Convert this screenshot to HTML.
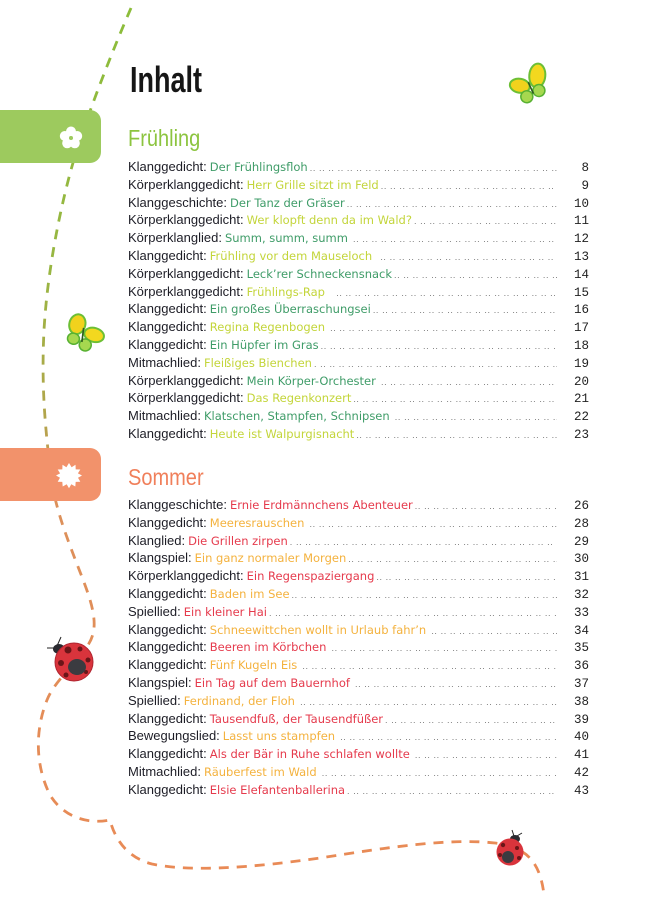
<!DOCTYPE html>
<html><head><meta charset="utf-8">
<style>
*{margin:0;padding:0;box-sizing:border-box}
html,body{width:657px;height:900px;background:#fff;overflow:hidden}
#pg{position:relative;width:657px;height:900px;background:#fff;font-family:"Liberation Sans",sans-serif}
svg.bg{position:absolute;left:0;top:0}
.h1{position:absolute;left:130px;top:62px;font-size:36px;line-height:36px;color:#161616;font-weight:bold;transform:scaleX(0.75);transform-origin:0 0;white-space:nowrap}
.h2{position:absolute;left:128px;font-size:23px;line-height:23px;transform:scaleX(0.87);transform-origin:0 0;white-space:nowrap}
.list{position:absolute;left:128px;width:461px}
.r{display:flex;align-items:baseline;height:17.8px;line-height:17.8px;white-space:nowrap}
.l{font-size:13px;color:#1d1d26}
.t{font-family:"DejaVu Sans",sans-serif;font-size:11.5px;margin-left:3px}
.d{flex:1;overflow:hidden;font-size:9px;color:#777;margin-left:2px;margin-right:14px;letter-spacing:0.6px}
.n{font-family:"Liberation Mono",monospace;font-size:12.5px;color:#222;width:18px;text-align:right}
.g1{color:#3f9c68}.g2{color:#c3d53a}
.s1{color:#e53a4c}.s2{color:#f4b23e}
</style></head><body>
<div id="pg">
<svg class="bg" width="657" height="900" viewBox="0 0 657 900">
<defs>
<linearGradient id="pg1" gradientUnits="userSpaceOnUse" x1="0" y1="0" x2="0" y2="900">
<stop offset="0" stop-color="#8bbd3a"/>
<stop offset="0.3" stop-color="#98b642"/>
<stop offset="0.47" stop-color="#b3a44c"/>
<stop offset="0.56" stop-color="#dc905a"/>
<stop offset="1" stop-color="#ea8a56"/>
</linearGradient>
</defs>
<path d="M131,8 C115,45 95,95 80,140 C65,185 48,260 44,330 C41,390 46,430 49,460 C52,505 70,545 85,585 C95,612 98,630 88,645 C78,662 55,680 47,700 C35,730 35,765 50,795 C62,815 85,825 110,820 C115,840 128,858 152,864 C190,872 250,868 320,858 C390,847 450,838 495,843 C525,847 540,860 544,895" fill="none" stroke="url(#pg1)" stroke-width="2.8" stroke-dasharray="10 8" stroke-linecap="butt"/>
<path d="M0,110 H90 A11,11 0 0 1 101,121 V152 A11,11 0 0 1 90,163 H0 Z" fill="#9dca5e"/>
<g fill="#fff" transform="translate(71,138)">
<circle cx="0" cy="-6.5" r="5"/><circle cx="6.2" cy="-2" r="5"/><circle cx="3.8" cy="5.3" r="5"/><circle cx="-3.8" cy="5.3" r="5"/><circle cx="-6.2" cy="-2" r="5"/>
<circle cx="0" cy="0" r="2" fill="#9dca5e"/>
</g>
<path d="M0,448 H90 A11,11 0 0 1 101,459 V490 A11,11 0 0 1 90,501 H0 Z" fill="#f2926b"/>
<polygon fill="#fff" points="69,463 71.6,467.3 75.5,464.8 75.7,469.4 80.3,469.5 77.9,473.4 82,475.5 78,477.8 80.3,481.8 75.7,481.9 75.3,486.5 71.3,484.3 69,488.3 66.7,484.3 62.7,486.5 62.3,481.9 57.7,481.8 60,477.8 56,475.5 60.1,473.4 57.7,469.5 62.3,469.4 62.5,464.8 66.4,467.3"/>
<g transform="translate(530,86) rotate(-10)">
<ellipse cx="-10" cy="-2" rx="10" ry="7" transform="rotate(20 -10 -2)" fill="#f1d21d" stroke="#6cbf35" stroke-width="2"/>
<ellipse cx="9" cy="-9" rx="8" ry="12" transform="rotate(15 9 -9)" fill="#f3d81f" stroke="#6cbf35" stroke-width="2"/>
<ellipse cx="-5" cy="10" rx="6" ry="6" fill="#a6d84f" stroke="#58b132" stroke-width="1.5"/>
<ellipse cx="8" cy="6" rx="6" ry="6" fill="#a6d84f" stroke="#58b132" stroke-width="1.5"/>
<line x1="-1" y1="-4" x2="2" y2="8" stroke="#2f5a20" stroke-width="1.6"/>
</g>
<g transform="translate(83,334) rotate(15)">
<ellipse cx="-8" cy="-8" rx="8" ry="10" fill="#f1d21d" stroke="#6cbf35" stroke-width="2"/>
<ellipse cx="11" cy="-2" rx="10" ry="7" fill="#f3d81f" stroke="#6cbf35" stroke-width="2"/>
<ellipse cx="-8" cy="7" rx="6" ry="5.5" fill="#a6d84f" stroke="#58b132" stroke-width="1.5"/>
<ellipse cx="5" cy="10" rx="6" ry="6" fill="#a6d84f" stroke="#58b132" stroke-width="1.5"/>
<line x1="-1" y1="-6" x2="1" y2="8" stroke="#2f5a20" stroke-width="1.6"/>
</g>
<g>
<line x1="57" y1="646" x2="61" y2="637" stroke="#222" stroke-width="1"/>
<line x1="55" y1="648" x2="47" y2="648" stroke="#222" stroke-width="1"/>
<ellipse cx="59" cy="649" rx="6" ry="5" fill="#2a2a30"/>
<circle cx="74" cy="662" r="19" fill="#d9343c"/>
<circle cx="74" cy="662" r="19" fill="none" stroke="#b02530" stroke-width="1"/>
<circle cx="68" cy="650" r="3.5" fill="#6a1518"/><circle cx="80" cy="649" r="2.5" fill="#6a1518"/>
<circle cx="61" cy="663" r="3" fill="#6a1518"/><circle cx="88" cy="660" r="2.5" fill="#6a1518"/>
<circle cx="66" cy="675" r="2.5" fill="#6a1518"/><circle cx="86" cy="672" r="2" fill="#6a1518"/>
<ellipse cx="77" cy="667" rx="9" ry="8" fill="#3b3b40"/>
</g>
<g>
<line x1="514" y1="836" x2="512" y2="830" stroke="#222" stroke-width="1"/>
<line x1="517" y1="836" x2="522" y2="833" stroke="#222" stroke-width="1"/>
<ellipse cx="515" cy="839" rx="5" ry="4" fill="#2a2a30"/>
<circle cx="510" cy="852" r="13.5" fill="#d9343c"/>
<circle cx="503" cy="845" r="2.2" fill="#6a1518"/><circle cx="517" cy="848" r="2" fill="#6a1518"/>
<circle cx="500" cy="855" r="2" fill="#6a1518"/><circle cx="519" cy="858" r="2" fill="#6a1518"/>
<ellipse cx="508" cy="857" rx="6" ry="6" fill="#3b3b40"/>
</g>
</svg>

<div class="h1">Inhalt</div>
<div class="h2" style="top:127px;color:#8cc43f">Frühling</div>
<div class="h2" style="top:466px;color:#f07f5a">Sommer</div>

<div class="list" style="top:158px">
<div class="r"><span class="l">Klanggedicht:</span><span class="t g1">Der Frühlingsfloh</span><span class="d">.. .. .. .. .. .. .. .. .. .. .. .. .. .. .. .. .. .. .. .. .. .. .. .. .. .. .. .. .. .. .. .. .. .. .. .. .. .. .. .. .. .. .. .. .. ..</span><span class="n">8</span></div>
<div class="r"><span class="l">Körperklanggedicht:</span><span class="t g2">Herr Grille sitzt im Feld</span><span class="d">.. .. .. .. .. .. .. .. .. .. .. .. .. .. .. .. .. .. .. .. .. .. .. .. .. .. .. .. .. .. .. .. .. .. .. .. .. .. .. .. .. .. .. .. .. ..</span><span class="n">9</span></div>
<div class="r"><span class="l">Klanggeschichte:</span><span class="t g1">Der Tanz der Gräser</span><span class="d">.. .. .. .. .. .. .. .. .. .. .. .. .. .. .. .. .. .. .. .. .. .. .. .. .. .. .. .. .. .. .. .. .. .. .. .. .. .. .. .. .. .. .. .. .. ..</span><span class="n">10</span></div>
<div class="r"><span class="l">Körperklanggedicht:</span><span class="t g2">Wer klopft denn da im Wald?</span><span class="d">. .. .. .. .. .. .. .. .. .. .. .. .. .. .. .. .. .. .. .. .. .. .. .. .. .. .. .. .. .. .. .. .. .. .. .. .. .. .. .. .. .. .. .. .. ..</span><span class="n">11</span></div>
<div class="r"><span class="l">Körperklanglied:</span><span class="t g1">Summ, summ, summ</span><span class="d">&nbsp;.. .. .. .. .. .. .. .. .. .. .. .. .. .. .. .. .. .. .. .. .. .. .. .. .. .. .. .. .. .. .. .. .. .. .. .. .. .. .. .. .. .. .. .. .. ..</span><span class="n">12</span></div>
<div class="r"><span class="l">Klanggedicht:</span><span class="t g2">Frühling vor dem Mauseloch</span><span class="d">&nbsp;&nbsp;.. .. .. .. .. .. .. .. .. .. .. .. .. .. .. .. .. .. .. .. .. .. .. .. .. .. .. .. .. .. .. .. .. .. .. .. .. .. .. .. .. .. .. .. .. ..</span><span class="n">13</span></div>
<div class="r"><span class="l">Körperklanggedicht:</span><span class="t g1">Leck’rer Schneckensnack</span><span class="d">.. .. .. .. .. .. .. .. .. .. .. .. .. .. .. .. .. .. .. .. .. .. .. .. .. .. .. .. .. .. .. .. .. .. .. .. .. .. .. .. .. .. .. .. .. ..</span><span class="n">14</span></div>
<div class="r"><span class="l">Körperklanggedicht:</span><span class="t g2">Frühlings-Rap</span><span class="d">&nbsp;&nbsp;&nbsp;.. .. .. .. .. .. .. .. .. .. .. .. .. .. .. .. .. .. .. .. .. .. .. .. .. .. .. .. .. .. .. .. .. .. .. .. .. .. .. .. .. .. .. .. .. ..</span><span class="n">15</span></div>
<div class="r"><span class="l">Klanggedicht:</span><span class="t g1">Ein großes Überraschungsei</span><span class="d">.. .. .. .. .. .. .. .. .. .. .. .. .. .. .. .. .. .. .. .. .. .. .. .. .. .. .. .. .. .. .. .. .. .. .. .. .. .. .. .. .. .. .. .. .. ..</span><span class="n">16</span></div>
<div class="r"><span class="l">Klanggedicht:</span><span class="t g2">Regina Regenbogen</span><span class="d">&nbsp;.. .. .. .. .. .. .. .. .. .. .. .. .. .. .. .. .. .. .. .. .. .. .. .. .. .. .. .. .. .. .. .. .. .. .. .. .. .. .. .. .. .. .. .. .. ..</span><span class="n">17</span></div>
<div class="r"><span class="l">Klanggedicht:</span><span class="t g1">Ein Hüpfer im Gras</span><span class="d">.. .. .. .. .. .. .. .. .. .. .. .. .. .. .. .. .. .. .. .. .. .. .. .. .. .. .. .. .. .. .. .. .. .. .. .. .. .. .. .. .. .. .. .. .. ..</span><span class="n">18</span></div>
<div class="r"><span class="l">Mitmachlied:</span><span class="t g2">Fleißiges Bienchen</span><span class="d">. .. .. .. .. .. .. .. .. .. .. .. .. .. .. .. .. .. .. .. .. .. .. .. .. .. .. .. .. .. .. .. .. .. .. .. .. .. .. .. .. .. .. .. .. ..</span><span class="n">19</span></div>
<div class="r"><span class="l">Körperklanggedicht:</span><span class="t g1">Mein Körper-Orchester</span><span class="d">&nbsp;.. .. .. .. .. .. .. .. .. .. .. .. .. .. .. .. .. .. .. .. .. .. .. .. .. .. .. .. .. .. .. .. .. .. .. .. .. .. .. .. .. .. .. .. .. ..</span><span class="n">20</span></div>
<div class="r"><span class="l">Körperklanggedicht:</span><span class="t g2">Das Regenkonzert</span><span class="d">.. .. .. .. .. .. .. .. .. .. .. .. .. .. .. .. .. .. .. .. .. .. .. .. .. .. .. .. .. .. .. .. .. .. .. .. .. .. .. .. .. .. .. .. .. ..</span><span class="n">21</span></div>
<div class="r"><span class="l">Mitmachlied:</span><span class="t g1">Klatschen, Stampfen, Schnipsen</span><span class="d">&nbsp;.. .. .. .. .. .. .. .. .. .. .. .. .. .. .. .. .. .. .. .. .. .. .. .. .. .. .. .. .. .. .. .. .. .. .. .. .. .. .. .. .. .. .. .. .. ..</span><span class="n">22</span></div>
<div class="r"><span class="l">Klanggedicht:</span><span class="t g2">Heute ist Walpurgisnacht</span><span class="d">.. .. .. .. .. .. .. .. .. .. .. .. .. .. .. .. .. .. .. .. .. .. .. .. .. .. .. .. .. .. .. .. .. .. .. .. .. .. .. .. .. .. .. .. .. ..</span><span class="n">23</span></div>
</div>

<div class="list" style="top:496px">
<div class="r"><span class="l">Klanggeschichte:</span><span class="t s1">Ernie Erdmännchens Abenteuer</span><span class="d">.. .. .. .. .. .. .. .. .. .. .. .. .. .. .. .. .. .. .. .. .. .. .. .. .. .. .. .. .. .. .. .. .. .. .. .. .. .. .. .. .. .. .. .. .. ..</span><span class="n">26</span></div>
<div class="r"><span class="l">Klanggedicht:</span><span class="t s2">Meeresrauschen</span><span class="d">&nbsp;.. .. .. .. .. .. .. .. .. .. .. .. .. .. .. .. .. .. .. .. .. .. .. .. .. .. .. .. .. .. .. .. .. .. .. .. .. .. .. .. .. .. .. .. .. ..</span><span class="n">28</span></div>
<div class="r"><span class="l">Klanglied:</span><span class="t s1">Die Grillen zirpen</span><span class="d">. .. .. .. .. .. .. .. .. .. .. .. .. .. .. .. .. .. .. .. .. .. .. .. .. .. .. .. .. .. .. .. .. .. .. .. .. .. .. .. .. .. .. .. .. ..</span><span class="n">29</span></div>
<div class="r"><span class="l">Klangspiel:</span><span class="t s2">Ein ganz normaler Morgen</span><span class="d">.. .. .. .. .. .. .. .. .. .. .. .. .. .. .. .. .. .. .. .. .. .. .. .. .. .. .. .. .. .. .. .. .. .. .. .. .. .. .. .. .. .. .. .. .. ..</span><span class="n">30</span></div>
<div class="r"><span class="l">Körperklanggedicht:</span><span class="t s1">Ein Regenspaziergang</span><span class="d">.. .. .. .. .. .. .. .. .. .. .. .. .. .. .. .. .. .. .. .. .. .. .. .. .. .. .. .. .. .. .. .. .. .. .. .. .. .. .. .. .. .. .. .. .. ..</span><span class="n">31</span></div>
<div class="r"><span class="l">Klanggedicht:</span><span class="t s2">Baden im See</span><span class="d">.. .. .. .. .. .. .. .. .. .. .. .. .. .. .. .. .. .. .. .. .. .. .. .. .. .. .. .. .. .. .. .. .. .. .. .. .. .. .. .. .. .. .. .. .. ..</span><span class="n">32</span></div>
<div class="r"><span class="l">Spiellied:</span><span class="t s1">Ein kleiner Hai</span><span class="d">. .. .. .. .. .. .. .. .. .. .. .. .. .. .. .. .. .. .. .. .. .. .. .. .. .. .. .. .. .. .. .. .. .. .. .. .. .. .. .. .. .. .. .. .. ..</span><span class="n">33</span></div>
<div class="r"><span class="l">Klanggedicht:</span><span class="t s2">Schneewittchen wollt in Urlaub fahr’n</span><span class="d">&nbsp;.. .. .. .. .. .. .. .. .. .. .. .. .. .. .. .. .. .. .. .. .. .. .. .. .. .. .. .. .. .. .. .. .. .. .. .. .. .. .. .. .. .. .. .. .. ..</span><span class="n">34</span></div>
<div class="r"><span class="l">Klanggedicht:</span><span class="t s1">Beeren im Körbchen</span><span class="d">&nbsp;.. .. .. .. .. .. .. .. .. .. .. .. .. .. .. .. .. .. .. .. .. .. .. .. .. .. .. .. .. .. .. .. .. .. .. .. .. .. .. .. .. .. .. .. .. ..</span><span class="n">35</span></div>
<div class="r"><span class="l">Klanggedicht:</span><span class="t s2">Fünf Kugeln Eis</span><span class="d">&nbsp;.. .. .. .. .. .. .. .. .. .. .. .. .. .. .. .. .. .. .. .. .. .. .. .. .. .. .. .. .. .. .. .. .. .. .. .. .. .. .. .. .. .. .. .. .. ..</span><span class="n">36</span></div>
<div class="r"><span class="l">Klangspiel:</span><span class="t s1">Ein Tag auf dem Bauernhof</span><span class="d">&nbsp;.. .. .. .. .. .. .. .. .. .. .. .. .. .. .. .. .. .. .. .. .. .. .. .. .. .. .. .. .. .. .. .. .. .. .. .. .. .. .. .. .. .. .. .. .. ..</span><span class="n">37</span></div>
<div class="r"><span class="l">Spiellied:</span><span class="t s2">Ferdinand, der Floh</span><span class="d">&nbsp;.. .. .. .. .. .. .. .. .. .. .. .. .. .. .. .. .. .. .. .. .. .. .. .. .. .. .. .. .. .. .. .. .. .. .. .. .. .. .. .. .. .. .. .. .. ..</span><span class="n">38</span></div>
<div class="r"><span class="l">Klanggedicht:</span><span class="t s1">Tausendfuß, der Tausendfüßer</span><span class="d">. .. .. .. .. .. .. .. .. .. .. .. .. .. .. .. .. .. .. .. .. .. .. .. .. .. .. .. .. .. .. .. .. .. .. .. .. .. .. .. .. .. .. .. .. ..</span><span class="n">39</span></div>
<div class="r"><span class="l">Bewegungslied:</span><span class="t s2">Lasst uns stampfen</span><span class="d">&nbsp;.. .. .. .. .. .. .. .. .. .. .. .. .. .. .. .. .. .. .. .. .. .. .. .. .. .. .. .. .. .. .. .. .. .. .. .. .. .. .. .. .. .. .. .. .. ..</span><span class="n">40</span></div>
<div class="r"><span class="l">Klanggedicht:</span><span class="t s1">Als der Bär in Ruhe schlafen wollte</span><span class="d">&nbsp;.. .. .. .. .. .. .. .. .. .. .. .. .. .. .. .. .. .. .. .. .. .. .. .. .. .. .. .. .. .. .. .. .. .. .. .. .. .. .. .. .. .. .. .. .. ..</span><span class="n">41</span></div>
<div class="r"><span class="l">Mitmachlied:</span><span class="t s2">Räuberfest im Wald</span><span class="d">&nbsp;.. .. .. .. .. .. .. .. .. .. .. .. .. .. .. .. .. .. .. .. .. .. .. .. .. .. .. .. .. .. .. .. .. .. .. .. .. .. .. .. .. .. .. .. .. ..</span><span class="n">42</span></div>
<div class="r"><span class="l">Klanggedicht:</span><span class="t s1">Elsie Elefantenballerina</span><span class="d">. .. .. .. .. .. .. .. .. .. .. .. .. .. .. .. .. .. .. .. .. .. .. .. .. .. .. .. .. .. .. .. .. .. .. .. .. .. .. .. .. .. .. .. .. ..</span><span class="n">43</span></div>
</div>
</div>
</body></html>
